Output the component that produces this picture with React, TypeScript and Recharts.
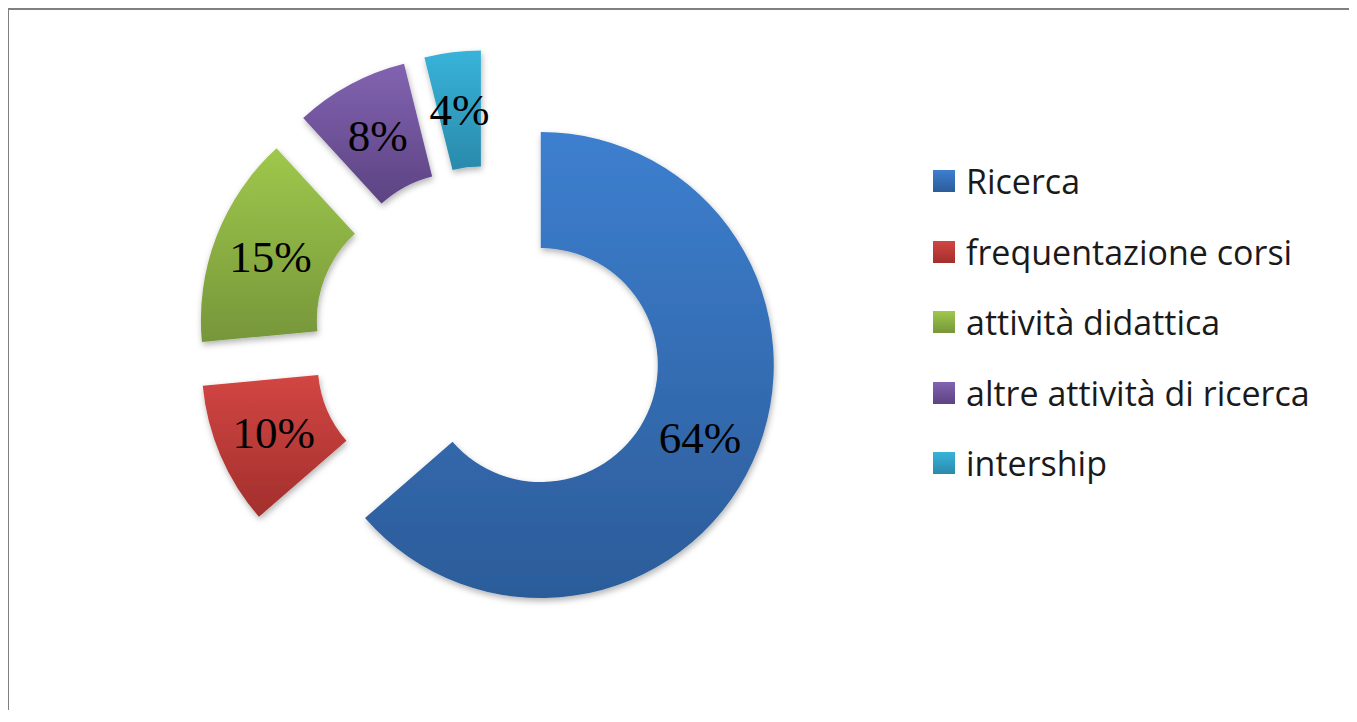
import { PieChart, Pie, Sector, Legend } from 'recharts'

const categories = [
  'Ricerca',
  'frequentazione corsi',
  'attività didattica',
  'altre attività di ricerca',
  'intership',
]
const shares = [63.6, 9.9, 14.7, 7.9, 3.9]

// vertical gradient per slice, light at top, darker at bottom
const topColors = ['#3d7fcf', '#d24643', '#9fc84c', '#8263b1', '#38b3da']
const bottomColors = ['#2c5c99', '#a22f2c', '#76963a', '#5c4382', '#2a8aab']

const data = categories.map((name, i) => ({ name, value: shares[i] }))

const EXPLODE = 58
const RAD = Math.PI / 180

function ExplodedSlice(props: any) {
  const { cx, cy, innerRadius, outerRadius, startAngle, endAngle, midAngle, percent, index } = props
  const ux = Math.cos(-midAngle * RAD)
  const uy = Math.sin(-midAngle * RAD)
  const ox = cx + EXPLODE * ux
  const oy = cy + EXPLODE * uy
  const mid = (innerRadius + outerRadius) / 2

  return (
    <g>
      <Sector
        cx={ox}
        cy={oy}
        innerRadius={innerRadius}
        outerRadius={outerRadius}
        startAngle={startAngle}
        endAngle={endAngle}
        fill={`url(#slice-${index})`}
        stroke="none"
        filter="url(#slice-shadow)"
      />
      <text
        x={ox + mid * ux}
        y={oy + mid * uy}
        textAnchor="middle"
        dominantBaseline="central"
        fontFamily="'Liberation Serif', 'Times New Roman', serif"
        fontSize={45}
        fill="#000"
      >
        {Math.round(percent * 100)}%
      </text>
    </g>
  )
}

function LegendList({ payload }: any) {
  // keep the data order, the legend sorts by name otherwise
  const items = [...(payload ?? [])].sort(
    (a: any, b: any) => categories.indexOf(a.value) - categories.indexOf(b.value),
  )
  return (
    <div>
      {items.map((entry: any) => {
        const i = categories.indexOf(entry.value)
        return (
          <div key={entry.value} style={{ display: 'flex', alignItems: 'center', height: 70.5 }}>
            <svg width={22} height={22} style={{ display: 'block' }}>
              <rect width={22} height={22} fill={`url(#slice-${i})`} />
            </svg>
            <span
              style={{
                marginLeft: 11,
                fontFamily: '"Open Sans", Lato, sans-serif',
                fontSize: 34,
                color: '#1a1a1a',
                whiteSpace: 'nowrap',
              }}
            >
              {entry.value}
            </span>
          </div>
        )
      })}
    </div>
  )
}

export default function App() {
  return (
    <div
      style={{
        marginLeft: -2,
        marginTop: -1,
        width: 1348,
        height: 700,
        borderTop: '3px solid #808080',
        borderLeft: '3px solid #808080',
        background: '#fff',
      }}
    >
      <PieChart width={1348} height={700} margin={{ top: 0, right: 0, bottom: 0, left: 0 }}>
        <defs>
          {topColors.map((c, i) => (
            <linearGradient key={i} id={`slice-${i}`} x1="0" y1="0" x2="0" y2="1">
              <stop offset="0%" stopColor={c} />
              <stop offset="100%" stopColor={bottomColors[i]} />
            </linearGradient>
          ))}
          <filter id="slice-shadow" x="-20%" y="-20%" width="140%" height="140%">
            <feDropShadow dx="1" dy="3" stdDeviation="3" floodColor="#000" floodOpacity="0.3" />
          </filter>
        </defs>
        <Pie
          data={data}
          dataKey="value"
          nameKey="name"
          cx={479}
          cy={331}
          innerRadius={117}
          outerRadius={233}
          startAngle={90}
          endAngle={-270}
          fill="transparent"
          stroke="none"
          label={ExplodedSlice}
          labelLine={false}
          isAnimationActive={false}
        />
        <Legend
          content={LegendList}
          layout="vertical"
          wrapperStyle={{ left: 924, top: 136, width: 424 }}
        />
      </PieChart>
    </div>
  )
}
